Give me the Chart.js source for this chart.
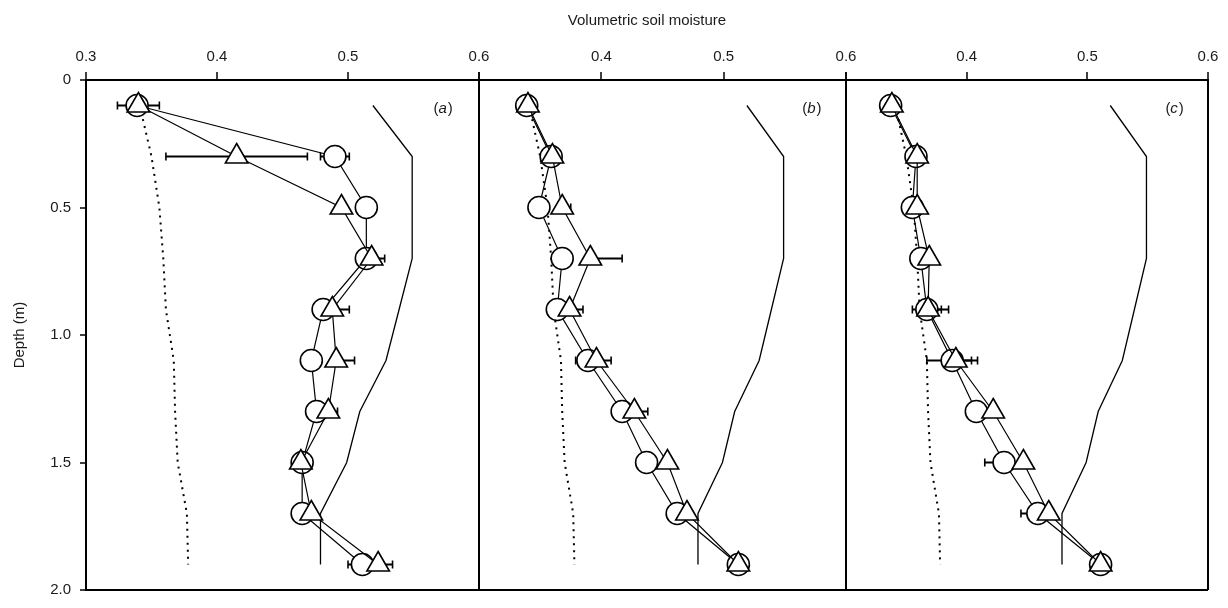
<!DOCTYPE html>
<html><head><meta charset="utf-8">
<script src="https://cdn.jsdelivr.net/npm/chart.js@4/dist/chart.umd.min.js"></script>
<style>html,body{margin:0;padding:0;background:#fff}canvas{display:block}</style>
</head><body>
<canvas id="c" width="1228" height="608"></canvas>
<script>
// ---- data ----
const depths = [0.1, 0.3, 0.5, 0.7, 0.9, 1.1, 1.3, 1.5, 1.7, 1.9];
const xTicks = [0.3, 0.4, 0.5, 0.6];
const yTicks = [0, 0.5, 1.0, 1.5, 2.0];
const panelLetters = ['a', 'b', 'c'];

// upper reference (solid) and lower reference (dotted) profiles
const upperLine = [0.519, 0.549, 0.549, 0.549, 0.539, 0.529, 0.509, 0.499, 0.479, 0.479];
const lowerLine = [0.341, 0.350, 0.356, 0.359, 0.361, 0.367, 0.368, 0.370, 0.377, 0.378];

// panel (a)
const aCircle   = [0.339, 0.490, 0.514, 0.514, 0.481, 0.472, 0.476, 0.465, 0.465, 0.511];
const aTriangle = [0.340, 0.415, 0.495, 0.518, 0.488, 0.491, 0.485, 0.464, 0.472, 0.523];
const aCircleErr   = [[0.324,0.356],[0.479,0.501],null,null,null,null,null,null,null,[0.500,0.511]];
const aTriangleErr = [null,[0.361,0.469],null,[0.518,0.528],[0.488,0.501],[0.491,0.505],[0.485,0.492],null,null,[0.523,0.534]];

// panel (b)
const bCircle   = [0.339, 0.359, 0.349, 0.368, 0.364, 0.389, 0.417, 0.437, 0.462, 0.512];
const bTriangle = [0.340, 0.360, 0.368, 0.391, 0.374, 0.396, 0.427, 0.454, 0.470, 0.512];
const bCircleErr   = [null,null,[0.341,0.349],null,null,[0.379,0.389],null,null,null,null];
const bTriangleErr = [null,null,[0.368,0.375],[0.391,0.417],[0.374,0.385],[0.396,0.408],[0.427,0.438],null,null,null];

// panel (c)
const cCircle   = [0.337, 0.358, 0.355, 0.362, 0.367, 0.388, 0.408, 0.431, 0.459, 0.511];
const cTriangle = [0.338, 0.359, 0.359, 0.369, 0.368, 0.391, 0.422, 0.447, 0.468, 0.511];
const cCircleErr   = [null,null,null,null,[0.355,0.379],[0.367,0.404],null,[0.415,0.431],[0.445,0.459],null];
const cTriangleErr = [null,null,null,null,[0.368,0.385],[0.391,0.409],null,null,null,null];

// ---- build ----
const FONT = 'Liberation Sans, Arial, Helvetica, sans-serif';
const TXT = '#1a1a1a';
const axisIds = ['xa', 'xb', 'xc'];
const weights = [393, 367, 362];

function pts(vals) { return vals.map((v, i) => ({x: v, y: depths[i]})); }
function errPts(errs) {
  const out = [];
  errs.forEach((e, i) => {
    if (!e) return;
    out.push({x: e[0], y: depths[i]}, {x: e[1], y: depths[i]}, {x: e[1], y: null});
  });
  return out;
}
function markerSet(vals, style, axis) {
  const tri = style === 'triangle';
  return {
    data: pts(vals), xAxisID: axis, yAxisID: 'y', order: tri ? 0 : 1,
    borderColor: '#000', borderWidth: 1.2, tension: 0,
    pointStyle: style, pointRadius: tri ? 13 : 11, pointHoverRadius: tri ? 13 : 11,
    pointBackgroundColor: '#fff', pointBorderColor: '#000', pointBorderWidth: 1.6
  };
}
function errSet(errs, axis) {
  return {
    data: errPts(errs), xAxisID: axis, yAxisID: 'y', order: 2, spanGaps: false,
    borderColor: '#000', borderWidth: 1.8,
    pointStyle: 'line', pointRotation: 90, pointRadius: 4, pointHoverRadius: 4,
    pointBorderColor: '#000', pointBorderWidth: 1.6
  };
}
function refSet(vals, axis, dotted) {
  return {
    data: pts(vals), xAxisID: axis, yAxisID: 'y', order: 3,
    borderColor: '#000', borderWidth: dotted ? 2 : 1.3,
    borderDash: dotted ? [2, 5] : [], pointRadius: 0, pointHoverRadius: 0, tension: 0
  };
}

const panels = [
  {c: aCircle, t: aTriangle, ce: aCircleErr, te: aTriangleErr},
  {c: bCircle, t: bTriangle, ce: bCircleErr, te: bTriangleErr},
  {c: cCircle, t: cTriangle, ce: cCircleErr, te: cTriangleErr}
];
const datasets = [];
panels.forEach((p, i) => {
  const ax = axisIds[i];
  datasets.push(markerSet(p.t, 'triangle', ax));
  datasets.push(markerSet(p.c, 'circle', ax));
  datasets.push(errSet(p.te, ax));
  datasets.push(errSet(p.ce, ax));
  datasets.push(refSet(upperLine, ax, false));
  datasets.push(refSet(lowerLine, ax, true));
});

const scales = {
  y: {
    type: 'linear', position: 'left', reverse: true, min: yTicks[0], max: yTicks[yTicks.length - 1],
    afterBuildTicks: s => { s.ticks = yTicks.map(v => ({value: v})); },
    afterFit: s => { s.width = 86; },
    border: {display: true, color: '#000', width: 2},
    grid: {
      drawTicks: true, tickLength: 6, tickColor: '#000', tickWidth: 1.5,
      color: c => (c.tick && c.tick.value === 2) ? '#000' : 'rgba(0,0,0,0)',
      lineWidth: 2
    },
    ticks: {
      padding: 9, color: TXT, font: {family: FONT, size: 15},
      callback: v => v === 0 ? '0' : Number(v).toFixed(1)
    },
    title: {display: true, text: 'Depth (m)', color: TXT, font: {family: FONT, size: 15}, padding: {top: 11, bottom: 0}}
  }
};
// top boxes are laid out in reverse creation order, so create the panels' axes right-to-left
[2, 1, 0].forEach(i => {
  const id = axisIds[i];
  scales[id] = {
    type: 'linear', position: 'top', stack: 'panels', stackWeight: weights[i],
    min: xTicks[0], max: xTicks[xTicks.length - 1],
    afterBuildTicks: s => { s.ticks = xTicks.map(v => ({value: v})); },
    afterFit: s => { s.height = 44; },
    border: {display: true, color: '#000', width: 2},
    grid: {
      drawTicks: true, tickLength: 8, tickColor: '#000', tickWidth: 1.5,
      color: c => (c.tick && Math.abs(c.tick.value - 0.6) < 1e-6) ? '#000' : 'rgba(0,0,0,0)',
      lineWidth: 2
    },
    ticks: {
      padding: 6, maxRotation: 0, autoSkip: false, color: TXT, font: {family: FONT, size: 15},
      callback: v => (i > 0 && Math.abs(v - 0.3) < 1e-6) ? '' : Number(v).toFixed(1)
    }
  };
});

const labelX = 0.58, labelDepth = 0.115;
const panelLabelPlugin = {
  id: 'panelLabels',
  afterDatasetsDraw(chart) {
    const ctx = chart.ctx;
    ctx.save();
    ctx.fillStyle = TXT;
    ctx.textBaseline = 'middle';
    ctx.textAlign = 'left';
    const y = chart.scales.y.getPixelForValue(labelDepth);
    panelLetters.forEach((L, i) => {
      const xr = chart.scales[axisIds[i]].getPixelForValue(labelX);
      const normal = '15px ' + FONT, italic = 'italic 15px ' + FONT;
      ctx.font = normal; const wp = ctx.measureText(')').width, wo = ctx.measureText('(').width;
      ctx.font = italic; const wl = ctx.measureText(L).width;
      let x = xr - wp - wl - wo - 1;
      ctx.font = normal; ctx.fillText('(', x, y); x += wo;
      ctx.font = italic; ctx.fillText(L, x, y); x += wl + 1;
      ctx.font = normal; ctx.fillText(')', x, y);
    });
    ctx.restore();
  }
};

new Chart(document.getElementById('c'), {
  type: 'line',
  data: {datasets},
  options: {
    responsive: false, animation: false, devicePixelRatio: 1,
    layout: {padding: {left: 0, top: 0, right: 20, bottom: 6}},
    plugins: {
      legend: {display: false}, tooltip: {enabled: false},
      title: {display: true, text: 'Volumetric soil moisture', fullSize: false, color: TXT,
              font: {family: FONT, size: 15, weight: 'normal'}, padding: {top: 12, bottom: 6}}
    },
    scales
  },
  plugins: [panelLabelPlugin]
});
</script>
</body></html>
